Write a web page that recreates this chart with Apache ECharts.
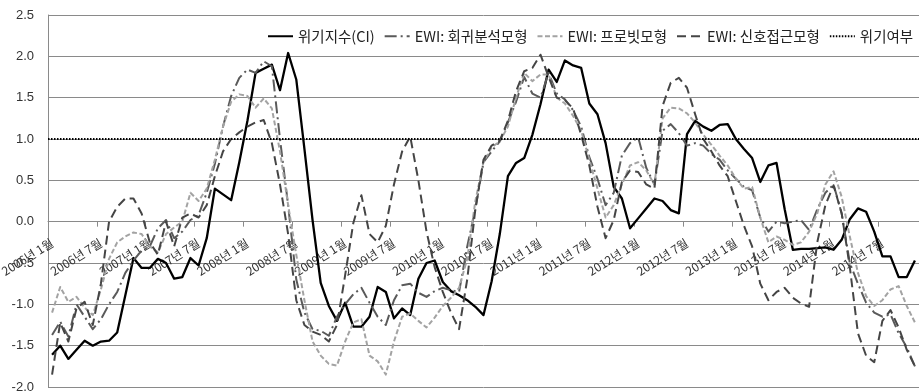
<!DOCTYPE html>
<html>
<head>
<meta charset="utf-8">
<script src="https://cdn.jsdelivr.net/npm/echarts@6/dist/echarts.min.js"></script>
<style>
  html, body { margin: 0; padding: 0; background: #ffffff; }
  #chart { width: 919px; height: 391px; }
</style>
</head>
<body>
<div id="chart"></div>
<script>
// Monthly observations, 2006년 1월 through 2014년 11월
const FIRST_YEAR = 2006;
const LAST_YEAR = 2014;
const LAST_MONTH = 11;

const SERIES_NAMES = ['위기지수(CI)', 'EWI: 회귀분석모형', 'EWI: 프로빗모형', 'EWI: 신호접근모형', '위기여부'];

// Crisis index (CI)
const ciValues = [
  -1.61, -1.50, -1.66, -1.55, -1.44, -1.50, -1.45, -1.44, -1.34, -0.89,
  -0.44, -0.56, -0.56, -0.45, -0.50, -0.69, -0.67, -0.44, -0.53, -0.20,
   0.40,  0.33,  0.26,  0.72,  1.22,  1.80,  1.85,  1.90,  1.59,  2.04,
   1.72,  0.88,  0.02, -0.74, -1.02, -1.20, -0.98, -1.27, -1.27, -1.15,
  -0.79, -0.85, -1.17, -1.05, -1.13, -0.69, -0.50, -0.47, -0.73, -0.84,
  -0.89, -0.95, -1.03, -1.13, -0.72, -0.15,  0.55,  0.71,  0.77,  1.05,
   1.42,  1.84,  1.69,  1.95,  1.89,  1.86,  1.43,  1.30,  0.95,  0.42,
   0.28, -0.08,  0.04,  0.16,  0.28,  0.25,  0.14,  0.10,  1.06,  1.22,
   1.15,  1.10,  1.17,  1.18,  1.00,  0.88,  0.77,  0.48,  0.68,  0.71,
   0.15, -0.34, -0.33, -0.33, -0.32, -0.31, -0.34, -0.22,  0.03,  0.16,
   0.12, -0.12, -0.42, -0.42, -0.67, -0.67, -0.47
];

// EWI: regression model
const regressionValues = [
  -1.37, -1.21, -1.39, -1.00, -1.15, -1.30, -1.18, -1.00, -0.85, -0.62,
  -0.47, -0.35, -0.30, -0.08,  0.02, -0.20, -0.12,  0.02,  0.08,  0.35,
   0.70,  1.15,  1.52,  1.74,  1.84,  1.80,  1.94,  1.88,  1.00,  0.20,
  -0.70, -1.10, -1.30, -1.32, -1.38, -1.15, -1.00, -0.88, -0.80, -0.98,
  -1.15, -1.25, -0.95, -0.77, -0.75, -0.86, -0.91, -0.84, -0.80, -0.83,
  -0.85, -0.30,  0.15,  0.72,  0.85,  0.97,  1.20,  1.45,  1.75,  1.55,
   1.50,  1.80,  1.55,  1.48,  1.35,  1.15,  0.78,  0.52,  0.20,  0.35,
   0.80,  0.95,  1.02,  0.65,  0.45,  1.10,  1.18,  1.07,  0.92,  0.95,
   0.92,  0.82,  0.75,  0.62,  0.52,  0.42,  0.38,  0.05, -0.12,  0.00,
  -0.02,  0.00,  0.02, -0.10,  0.15,  0.35,  0.45,  0.10, -0.50, -0.75,
  -0.98, -1.10, -1.15, -1.12, -1.35, -1.52, -1.75
];

// EWI: probit model
const probitValues = [
  -1.10, -0.79, -0.97, -0.91, -1.04, -1.13, -0.82, -0.45, -0.25, -0.18,
  -0.13, -0.15, -0.30, -0.37, -0.15, -0.07,  0.00,  0.35,  0.25,  0.40,
   0.75,  1.15,  1.45,  1.54,  1.52,  1.38,  1.49,  1.37,  0.85,  0.20,
  -0.40, -0.95, -1.45, -1.62, -1.72, -1.74, -1.45, -1.22, -1.18, -1.62,
  -1.69, -1.85, -1.45, -1.15, -1.11, -1.20, -1.28, -1.16, -1.02, -0.92,
  -0.80, -0.45,  0.25,  0.72,  0.90,  0.97,  1.15,  1.50,  1.80,  1.70,
   1.78,  1.78,  1.50,  1.43,  1.28,  1.10,  0.75,  0.40,  0.05,  0.20,
   0.45,  0.68,  0.72,  0.62,  0.45,  1.25,  1.38,  1.37,  1.31,  1.20,
   1.05,  0.93,  0.80,  0.68,  0.52,  0.40,  0.42,  0.05, -0.25, -0.18,
  -0.22, -0.28, -0.25, -0.12,  0.10,  0.45,  0.61,  0.30, -0.18, -0.62,
  -0.90, -1.02, -0.95, -0.82, -0.78, -1.02, -1.22
];

// EWI: signal approach model
const signalValues = [
  -1.85, -1.22, -1.45, -1.05, -0.97, -1.25, -0.75,  0.00,  0.18,  0.28,
   0.28,  0.10, -0.25, -0.40,  0.00, -0.30,  0.05,  0.10,  0.05,  0.20,
   0.55,  0.85,  1.00,  1.08,  1.15,  1.20,  1.23,  0.95,  0.45, -0.15,
  -0.95, -1.25, -1.33, -1.37, -1.45, -1.25, -0.65, -0.02,  0.32, -0.15,
  -0.25, -0.05,  0.45,  0.85,  1.03,  0.50, -0.12, -0.55, -0.85, -1.10,
  -1.30, -0.70,  0.15,  0.75,  0.92,  0.98,  1.22,  1.58,  1.82,  1.86,
   2.02,  1.75,  1.50,  1.47,  1.37,  1.05,  0.68,  0.18, -0.20,  0.02,
   0.48,  0.62,  0.60,  0.45,  0.40,  1.40,  1.68,  1.74,  1.62,  1.30,
   1.00,  0.85,  0.68,  0.55,  0.25, -0.05, -0.30, -0.75, -0.95, -0.85,
  -0.80, -0.92, -0.99, -1.03, -0.25,  0.20,  0.44,  0.10, -0.55, -1.35,
  -1.62, -1.70, -1.20, -1.07, -1.28, -1.55, -1.75
];

// Crisis threshold (위기여부)
const CRISIS_THRESHOLD = 1.0;

// Value axis ticks
const Y_MIN = -2.0;
const Y_MAX = 2.5;
const Y_STEP = 0.5;

// Month labels
const months = [];
for (let y = FIRST_YEAR; y <= LAST_YEAR; y++) {
  const endMonth = (y === LAST_YEAR) ? LAST_MONTH : 12;
  for (let m = 1; m <= endMonth; m++) months.push(y + '년 ' + m + '월');
}

const KR_FONT = '"Noto Sans CJK KR", "Noto Sans", sans-serif';
const GRID_COLOR = '#8a8a8a';

// Plot area
const CHART_H = 391;
const GRID_TOP = 15;
const GRID_BOTTOM = 4;
const GRID_H = CHART_H - GRID_TOP - GRID_BOTTOM;
// The category axis crosses the value axis at 0: shift it up from the bottom edge
const ZERO_OFFSET = -((0 - Y_MIN) / (Y_MAX - Y_MIN)) * GRID_H;

function lineSeries(name, values, color, width, dash) {
  return {
    name: name,
    type: 'line',
    data: values,
    symbol: 'none',
    showSymbol: false,
    smooth: false,
    lineStyle: { color: color, width: width, type: dash, join: 'round', cap: 'butt' },
    itemStyle: { color: color },
    emphasis: { disabled: true }
  };
}

const chart = echarts.init(document.getElementById('chart'), null, { renderer: 'canvas' });

chart.setOption({
  animation: false,
  backgroundColor: '#ffffff',
  grid: { left: 48, right: 0, top: GRID_TOP, bottom: GRID_BOTTOM, containLabel: false, outerBoundsMode: 'none' },
  legend: {
    top: 24,
    left: 262,
    itemWidth: 25,
    itemHeight: 10,
    itemGap: 9,
    itemStyle: { opacity: 0 },
    textStyle: { fontFamily: KR_FONT, fontSize: 14.5, color: '#222222' },
    data: SERIES_NAMES
  },
  xAxis: {
    type: 'category',
    data: months,
    boundaryGap: true,
    position: 'bottom',
    offset: ZERO_OFFSET,
    axisLine: { show: true, onZero: false, lineStyle: { color: GRID_COLOR, width: 1 } },
    axisTick: { show: true, interval: 5, length: 5, lineStyle: { color: GRID_COLOR } },
    axisLabel: {
      interval: 5,
      rotate: 32,
      margin: 20,
      fontFamily: KR_FONT,
      fontSize: 12,
      color: '#333333'
    },
    splitLine: { show: false }
  },
  yAxis: {
    type: 'value',
    min: Y_MIN,
    max: Y_MAX,
    interval: Y_STEP,
    axisLine: { show: true, lineStyle: { color: GRID_COLOR, width: 1 } },
    axisTick: { show: false },
    axisLabel: {
      margin: 14,
      fontFamily: '"Liberation Sans", Arial, sans-serif',
      fontSize: 13,
      color: '#333333',
      formatter: function (v) { return v.toFixed(1); }
    },
    splitLine: { show: true, lineStyle: { color: GRID_COLOR, width: 1 } }
  },
  series: [
    lineSeries(SERIES_NAMES[0], ciValues, '#000000', 2.3, 'solid'),
    lineSeries(SERIES_NAMES[1], regressionValues, '#5a5a5a', 2, [12, 4, 2, 4]),
    lineSeries(SERIES_NAMES[2], probitValues, '#a3a3a3', 2, [5, 2.5]),
    lineSeries(SERIES_NAMES[3], signalValues, '#454545', 2, [9, 5]),
    {
      name: SERIES_NAMES[4],
      type: 'line',
      data: [],
      symbol: 'none',
      lineStyle: { color: '#000000', width: 2, type: [1.5, 1.5] },
      itemStyle: { color: '#000000' },
      markLine: {
        silent: true,
        symbol: 'none',
        label: { show: false },
        lineStyle: { color: '#000000', width: 2, type: [1.5, 1.5] },
        data: [{ yAxis: CRISIS_THRESHOLD }]
      }
    }
  ]
});
</script>
</body>
</html>
